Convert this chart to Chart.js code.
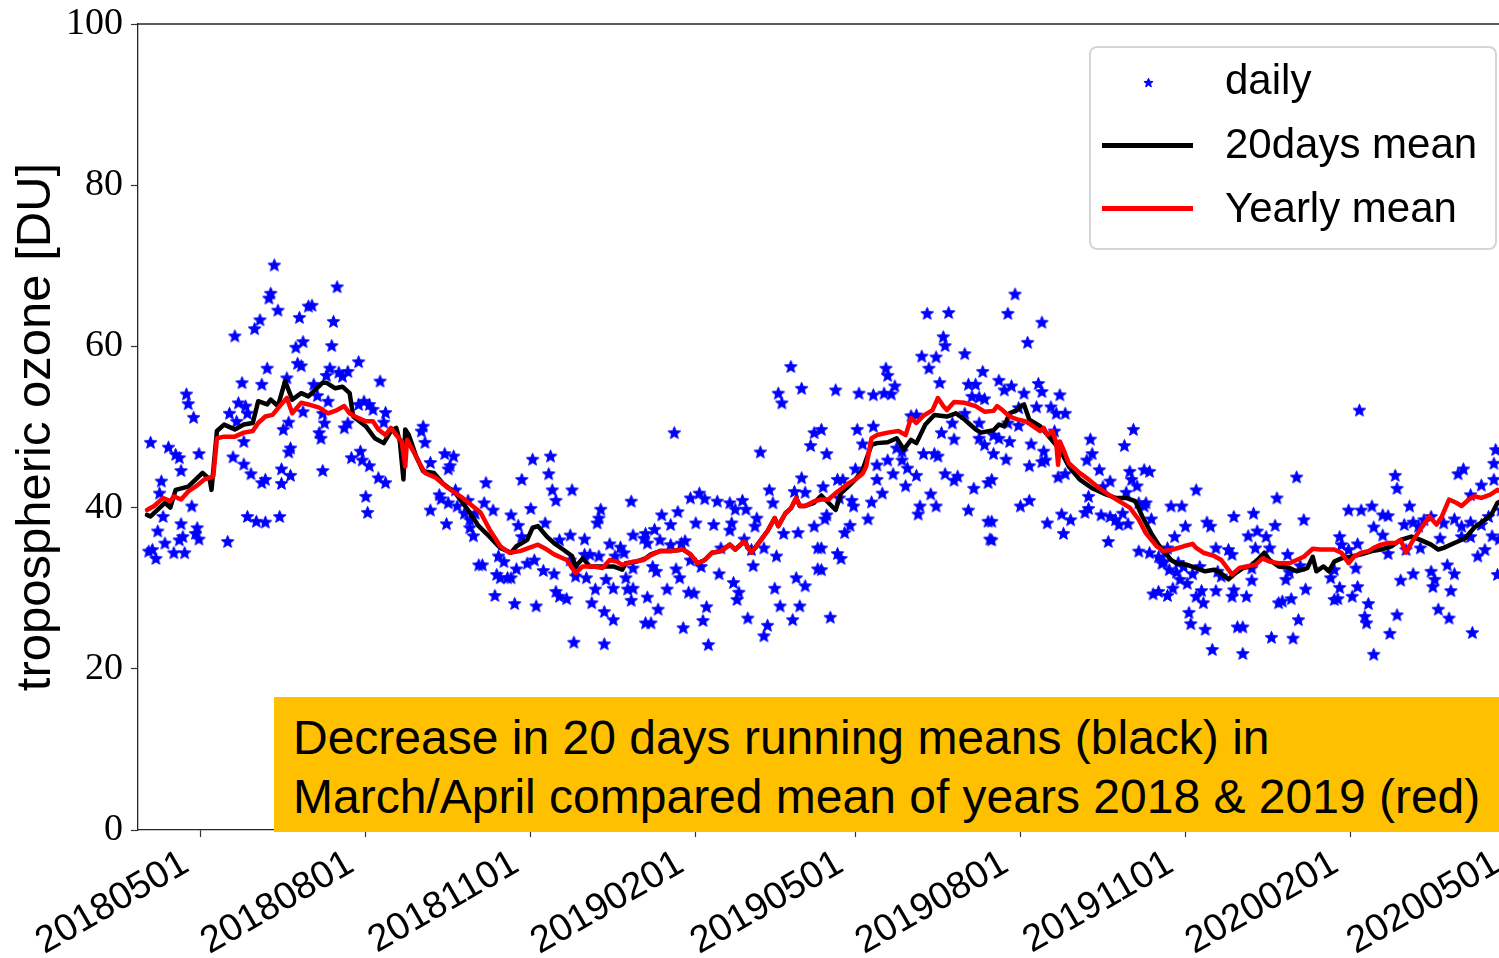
<!DOCTYPE html>
<html>
<head>
<meta charset="utf-8">
<script src="https://cdn.jsdelivr.net/npm/chart.js@4.4.1/dist/chart.umd.min.js"></script>
<style>
html,body{margin:0;padding:0;background:#fff;overflow:hidden;width:1499px;height:958px;}
#wrap{position:relative;width:1499px;height:958px;overflow:hidden;background:#fff;}
#c{position:absolute;left:0;top:0;}
.legend{position:absolute;left:1089px;top:46px;width:404px;height:200px;border:2px solid #d6d6d6;border-radius:8px;background:rgba(255,255,255,0.85);}
.lt{position:absolute;left:1225px;font-family:'Liberation Sans',Arial,sans-serif;font-size:42px;line-height:42px;color:#000;white-space:nowrap;}
.ll{position:absolute;left:1102px;width:91px;height:5px;}
.note{position:absolute;left:274px;top:697px;width:1240px;height:135px;background:#ffc000;box-sizing:border-box;padding:11px 0 0 19px;font-family:'Liberation Sans',Arial,sans-serif;font-size:48px;line-height:59px;color:#000;white-space:nowrap;}
</style>
</head>
<body>
<div id="wrap">
  <canvas id="c" width="1540" height="958" style="width:1540px;height:958px;"></canvas>
  <div class="legend"></div>
  <div class="lt" style="top:59px;">daily</div>
  <div class="ll" style="top:143px;background:#000;"></div>
  <div class="lt" style="top:123px;">20days mean</div>
  <div class="ll" style="top:206px;background:#ff0000;"></div>
  <div class="lt" style="top:187px;">Yearly mean</div>
  <div class="note">Decrease in 20 days running means (black) in<br>March/April compared mean of years 2018 &amp; 2019 (red)</div>
</div>
<script>
// x values: day number counted from 2018-01-01 (day 0)
const tickLabels = ['20180501','20180801','20181101','20190201','20190501','20190801','20191101','20200201','20200501'];
const xRange = [85, 855];
const yRange = [0, 100];
const yTickStep = 20;

// daily tropospheric ozone [DU] : [day, value]
const dailyOzone = [
[161,70.1],[159,66.6],[158,66.0],[163,64.5],[153,63.3],[150,62.2],[139,61.3],[175,63.6],[177,60.6],[173,59.9],
[174,57.9],[176,57.6],[157,57.3],[143,55.5],[154,55.3],[168,56.1],[112,54.1],[113,52.9],[116,51.2],[141,53.0],
[136,51.7],[145,52.6],[146,51.7],[140,50.7],[169,50.6],[166,49.7],[92,48.1],[102,47.5],[106,46.6],[108,46.2],
[119,46.7],[109,44.6],[144,48.2],[138,46.3],[144,45.4],[148,44.2],[170,47.4],[169,46.9],[165,44.8],[170,44.0],
[156,43.5],[154,43.1],[165,43.0],[98,43.3],[97,41.8],[115,40.2],[99,38.9],[146,38.9],[151,38.3],[156,38.2],
[164,38.9],[109,38.0],[96,37.1],[118,37.5],[117,36.8],[119,36.1],[108,36.0],[110,36.4],[100,35.6],[91,34.6],
[93,34.8],[95,33.7],[105,34.4],[111,34.4],[135,35.8],[177,51.9],[180,65.0],
[196,67.4],[182,65.1],[194,63.1],[193,60.1],[208,58.1],[192,57.3],[197,56.8],[199,56.3],[202,56.9],[190,56.4],
[220,55.7],[183,55.3],[185,53.9],[191,53.2],[211,53.2],[214,52.8],[216,52.2],[223,51.8],[188,51.7],[200,49.9],
[189,50.5],[222,50.6],[186,49.3],[187,48.6],[244,50.1],[243,49.5],[245,48.1],[256,46.7],[261,46.4],[259,45.2],
[258,44.8],[248,45.6],[209,47.0],[204,46.2],[210,45.9],[214,45.2],[188,44.6],[219,43.7],[223,43.1],[262,42.2],
[253,41.6],[254,41.1],[258,40.6],[248,39.7],[212,41.4],[213,39.4],[257,38.0],[263,40.2],[269,40.9],[267,39.3],
[270,38.5],[270,37.5],[272,36.5],[275,32.9],[208,52.8],[202,50.5],[273,39.3],
[279,43.1],[278,40.6],[283,39.7],[277,32.9],[293,39.1],[297,37.8],[299,36.4],[305,46.0],[315,46.4],[299,43.5],
[314,44.2],[316,42.2],[318,40.9],[327,42.2],[304,39.9],[312,38.1],[326,36.6],[334,36.1],[341,38.1],[342,38.7],
[343,39.8],[360,40.8],[361,36.6],[367,36.2],[368,36.8],[369,35.6],[348,35.5],[354,35.1],[356,34.4],[286,34.0],
[289,33.3],[287,31.3],[291,31.3],[293,31.3],[285,31.7],[284,29.1],[295,28.1],[307,27.8],[302,33.1],[306,33.5],
[311,32.2],[317,31.8],[318,29.6],[320,29.0],[324,28.7],[329,31.5],[335,31.3],[340,29.9],[338,28.2],[345,27.1],
[350,26.1],[346,31.1],[350,30.0],[357,31.3],[358,29.9],[361,30.0],[360,28.5],[368,25.7],[369,28.9],[328,23.3],
[345,23.1],[326,33.5],[334,34.2],[337,34.2],[342,34.0],[351,34.0],[329,32.4],[296,32.4],[361,32.5],[320,36.0],
[449,57.5],[442,54.2],[444,53.0],[455,54.8],[384,49.3],[462,49.3],[460,47.7],[432,46.9],[455,43.7],[437,42.2],
[451,42.0],[457,41.9],[393,41.2],[398,41.8],[401,41.1],[408,40.8],[415,40.6],[422,40.9],[418,39.8],[424,39.8],
[439,40.6],[377,39.1],[386,39.5],[382,37.9],[396,38.1],[406,37.9],[416,38.1],[430,38.7],[429,37.7],[415,37.2],
[373,37.3],[376,36.0],[390,35.9],[388,35.6],[382,35.4],[445,36.8],[453,36.9],[462,37.7],[423,36.1],[410,35.0],
[427,34.8],[434,35.0],[441,34.0],[464,35.0],[372,32.7],[374,32.1],[385,32.4],[387,31.3],[393,33.5],[399,32.7],
[409,31.8],[417,30.7],[420,29.5],[419,28.6],[428,32.8],[452,31.3],[457,30.3],[464,32.4],[440,30.0],[380,29.9],
[392,29.5],[395,29.4],[375,27.4],[402,27.7],[400,26.0],[389,25.1],[425,26.3],[436,25.4],[434,24.1],[443,27.8],
[454,27.8],[450,26.1],[403,23.0],[371,25.7],
[525,64.1],[537,64.2],[534,61.2],[535,60.1],[522,58.8],[530,58.7],[546,59.1],[526,57.3],[502,57.3],[503,56.4],
[556,56.9],[474,54.6],[487,54.2],[495,54.0],[501,54.2],[505,54.1],[507,55.1],[532,55.5],[548,55.3],[552,55.3],
[550,53.8],[554,53.7],[557,53.5],[486,49.7],[495,50.1],[516,51.4],[519,51.5],[533,49.3],[540,48.5],[489,47.9],
[469,46.7],[508,47.4],[511,47.0],[523,46.7],[529,46.7],[531,46.4],[554,48.6],[557,47.8],[466,49.7],[485,44.8],
[497,45.3],[503,45.9],[506,44.2],[511,45.9],[514,44.9],[519,44.0],[497,43.5],[500,41.8],[513,42.7],[475,43.5],
[478,43.5],[535,44.2],[542,43.9],[540,43.4],[551,42.4],[559,43.1],[467,42.6],[476,41.2],[483,40.9],[484,40.2],
[494,40.7],[492,38.6],[527,41.7],[521,40.2],[520,39.2],[530,40.2],[548,39.7],[559,38.3],[560,36.1],[469,39.1],
[468,38.6],[482,37.8],[479,36.9],[475,34.3],[477,33.7],[466,32.3],[471,26.4],[466,35.0],[546,51.7],[539,50.5],
[554,50.5],
[574,66.5],[570,64.1],[589,63.0],[581,60.5],[565,55.8],[568,54.6],[572,55.1],[579,54.2],[587,55.4],[589,54.4],
[599,54.0],[586,52.5],[594,52.5],[597,51.7],[602,51.7],[576,52.4],[570,50.5],[576,50.2],[596,49.5],[565,48.6],
[571,48.2],[562,49.0],[583,47.9],[590,47.0],[591,45.9],[589,45.7],[569,46.0],[562,46.7],[582,45.2],[598,43.8],
[602,44.2],[616,48.5],[617,46.7],[614,45.9],[621,44.7],[640,49.7],[635,47.7],[638,44.5],[646,44.7],[649,44.5],
[639,43.5],[642,42.7],[627,43.3],[623,42.6],[615,41.4],[636,41.9],[577,40.2],[582,40.9],[600,39.2],[605,38.5],
[592,38.1],[601,36.8],[613,39.4],[615,39.9],[622,39.1],[627,38.9],[630,38.5],[632,37.9],[637,38.0],[634,39.3],
[643,40.6],[646,40.2],[647,40.6],[650,38.6],[626,35.8],[643,34.6],[649,34.4],[654,33.9],[656,33.1],[651,29.3],
[654,29.6],[561,38.3],[561,36.0],[561,43.5],
[731,43.8],[675,42.2],[720,41.2],[661,40.2],[667,40.2],[696,38.9],[707,39.3],[735,38.5],[669,37.7],[681,38.2],
[683,37.7],[719,37.8],[704,36.5],[709,37.1],[714,36.4],[663,36.4],[659,35.0],[658,34.4],[686,35.0],[693,34.8],
[695,34.2],[708,35.0],[716,35.0],[726,34.2],[665,33.2],[668,32.7],[657,33.3],[660,32.3],[664,32.0],[673,31.8],
[677,32.7],[687,32.1],[689,31.5],[706,32.5],[733,32.8],[727,32.0],[725,31.1],[666,31.1],[670,30.6],[662,30.0],
[659,29.1],[678,29.7],[675,29.0],[679,28.2],[686,29.7],[696,29.8],[695,29.0],[703,29.0],[706,31.0],[736,29.9],
[728,28.7],[721,28.2],[723,28.4],[671,27.0],[672,25.6],[680,24.9],[698,25.2],[701,25.2],[732,26.1],[717,23.9],
[729,23.8],[684,22.4],[701,21.9],[752,28.6],[750,31.3],
[766,52.1],[842,47.2],[841,45.5],[786,44.0],[787,42.4],[824,44.8],[821,44.2],[834,42.8],[841,43.5],[828,41.6],
[760,39.7],[767,39.7],[773,40.2],[779,39.1],[782,39.0],[794,40.2],[774,37.6],[779,36.6],[791,37.9],[796,38.2],
[799,37.7],[802,38.5],[806,38.9],[813,38.1],[819,38.6],[823,37.7],[828,38.2],[834,37.9],[838,38.9],[755,36.4],
[765,35.5],[756,35.4],[760,34.8],[782,34.3],[792,34.8],[800,35.0],[811,36.2],[823,36.4],[828,36.4],[840,36.5],
[836,34.8],[832,34.0],[764,32.5],[752,32.3],[815,32.9],[819,31.8],[806,32.1],[808,31.1],[807,30.2],[796,31.8],
[789,31.0],[843,31.7],[755,30.1],[765,30.2],[762,29.0],[754,28.7],[771,28.1],[817,29.7],[810,27.4],[769,26.5],
[770,25.7],[787,26.7],[816,26.3],[783,24.4],[829,24.5],[774,21.8],[844,36.1],[845,39.7]
];

// 20 days running mean : [day, value]
const mean20days = [
[90,39.1],[92,38.9],[100,40.6],[103,40.0],[106,42.2],[113,42.6],[121,44.3],[125,43.5],[126,42.2],[129,49.5],
[133,50.3],[139,49.7],[144,50.3],[149,50.5],[152,53.2],[157,52.8],[159,53.4],[163,52.6],[167,55.7],[171,53.4],
[176,54.2],[180,53.8],[188,55.5],[190,55.5],[195,54.8],[199,55.0],[203,54.2],[205,51.3],[212,50.1],[217,48.6],
[222,48.0],[226,49.5],[229,49.9],[231,48.2],[233,43.5],[234,49.7],[236,49.0],[240,46.4],[244,44.5],[250,44.3],
[255,43.0],[262,41.8],[269,39.7],[275,37.7],[281,36.4],[287,35.0],[293,34.4],[296,35.2],[302,36.0],[305,37.5],
[308,37.7],[313,36.4],[317,35.6],[322,34.8],[327,34.0],[329,32.7],[333,33.7],[337,32.7],[342,32.7],[350,32.7],
[355,32.3],[357,33.1],[363,33.3],[368,33.7],[371,34.2],[376,34.6],[382,34.6],[389,34.8],[393,34.2],[397,33.1],
[401,33.5],[405,34.4],[410,34.6],[415,35.4],[418,34.8],[423,35.8],[427,34.4],[431,35.6],[436,37.1],[440,38.7],
[442,37.7],[446,39.3],[449,39.9],[452,41.2],[454,40.2],[457,40.2],[462,40.6],[466,41.5],[470,40.6],[474,39.7],
[477,41.8],[481,42.6],[485,43.5],[489,44.7],[494,47.8],[497,48.0],[503,48.1],[508,48.6],[512,47.2],[516,48.4],
[519,48.0],[524,50.3],[529,51.5],[536,51.3],[541,51.7],[546,50.9],[552,49.7],[555,49.3],[562,49.6],[565,50.3],
[568,50.1],[571,51.7],[575,52.1],[577,52.6],[579,52.8],[582,50.9],[588,50.1],[593,48.8],[599,47.2],[604,45.1],
[610,43.5],[617,42.4],[625,41.6],[630,41.2],[636,41.2],[641,40.8],[645,38.9],[650,36.8],[654,35.4],[657,34.6],
[661,33.5],[664,33.1],[670,32.9],[675,32.5],[680,32.1],[685,32.3],[688,32.0],[693,31.1],[696,31.7],[701,32.5],
[705,32.7],[710,33.7],[713,34.4],[716,33.5],[721,32.7],[727,32.5],[731,32.1],[737,32.5],[740,33.9],[742,32.1],
[746,32.7],[749,32.1],[752,33.3],[756,33.7],[761,33.9],[767,34.2],[773,34.6],[778,34.8],[784,35.2],[789,36.0],
[795,36.4],[800,36.0],[806,35.4],[810,34.8],[813,35.0],[819,35.6],[825,36.2],[830,37.5],[836,38.5],[840,39.3],
[843,40.6],[845,40.8]
];

// mean of years 2018 & 2019 : [day, value]
const yearlyMean = [
[90,39.7],[94,40.2],[99,41.2],[103,40.8],[105,41.4],[109,41.0],[113,42.0],[117,42.6],[122,43.5],[125,43.7],
[127,43.9],[129,48.6],[133,48.8],[139,48.8],[144,49.3],[149,49.5],[152,50.5],[156,51.3],[160,51.5],[164,52.6],
[168,53.6],[171,51.7],[176,53.0],[180,52.8],[186,52.4],[191,51.7],[196,52.1],[200,52.6],[203,51.7],[206,51.3],
[212,50.7],[216,50.7],[219,49.7],[223,49.0],[226,49.9],[229,49.0],[232,48.2],[234,45.1],[235,48.4],[238,47.2],
[242,45.5],[245,44.3],[251,43.7],[258,42.4],[266,41.2],[276,39.4],[281,37.3],[287,35.2],[292,34.4],[298,34.6],
[303,35.0],[308,35.4],[313,34.8],[317,34.2],[324,33.5],[329,31.9],[333,32.7],[339,32.7],[344,32.5],[348,33.5],
[352,33.3],[355,32.9],[361,33.3],[367,33.5],[371,34.1],[376,34.6],[382,34.6],[389,34.8],[393,34.2],[397,33.1],
[401,33.5],[405,34.4],[410,34.6],[415,35.4],[418,34.8],[423,35.8],[427,34.4],[431,35.6],[436,37.1],[440,38.7],
[442,37.7],[446,39.3],[449,39.9],[452,41.2],[454,40.2],[457,40.2],[462,40.8],[466,41.0],[470,41.0],[474,41.8],
[477,42.3],[481,43.0],[485,43.5],[489,44.2],[491,45.1],[494,48.6],[497,49.0],[503,49.3],[509,49.5],[513,49.0],
[516,51.1],[519,50.5],[523,51.4],[528,52.1],[531,53.6],[534,52.6],[536,52.1],[540,53.1],[546,53.0],[552,52.6],
[557,51.9],[562,52.0],[564,52.6],[567,52.1],[571,51.3],[576,50.9],[580,50.7],[584,50.1],[588,49.5],[590,49.9],
[592,49.0],[595,49.5],[597,48.0],[598,45.3],[599,48.2],[601,47.2],[604,45.5],[610,44.3],[615,43.5],[621,42.4],
[627,41.5],[632,40.8],[638,40.0],[643,38.5],[647,36.8],[653,35.2],[657,34.6],[662,34.8],[668,35.2],[673,35.5],
[675,35.0],[679,34.4],[685,34.0],[689,33.5],[693,32.3],[695,31.7],[699,32.5],[703,32.7],[708,32.9],[712,33.7],
[716,33.3],[721,33.1],[727,33.1],[731,33.5],[735,33.9],[740,34.9],[744,34.8],[752,34.8],[756,34.4],[760,33.1],
[763,33.9],[767,34.4],[771,34.6],[774,35.0],[778,35.4],[782,35.6],[786,35.6],[789,36.0],[792,34.4],[795,35.6],
[800,37.3],[805,38.9],[809,37.9],[812,38.9],[816,41.0],[820,40.6],[823,40.2],[827,41.0],[830,41.4],[834,41.2],
[839,41.6],[843,42.2],[845,42.0]
];

function dayOf(s) {
  return (Date.UTC(+s.slice(0,4), +s.slice(4,6) - 1, +s.slice(6,8)) - Date.UTC(2018,0,1)) / 86400000;
}
const tickDays = tickLabels.map(dayOf);
const toPts = arr => arr.map(p => ({x: p[0], y: p[1]}));

function makeStar(r, color) {
  const size = Math.ceil(r * 2) + 3;
  const c = document.createElement('canvas');
  c.width = size; c.height = size;
  const g = c.getContext('2d');
  const cx = size / 2, cy = size / 2 + 0.5;
  g.beginPath();
  for (let i = 0; i < 10; i++) {
    const a = -Math.PI / 2 + i * Math.PI / 5;
    const rr = (i % 2 === 0) ? r : r * 0.44;
    const px = cx + rr * Math.cos(a), py = cy + rr * Math.sin(a);
    if (i === 0) g.moveTo(px, py); else g.lineTo(px, py);
  }
  g.closePath();
  g.fillStyle = color; g.fill();
  g.lineWidth = 1; g.strokeStyle = color; g.lineJoin = 'miter'; g.stroke();
  return c;
}
const starImg = makeStar(6.6, '#0000ff');

// legend star
const ls = makeStar(4.8, '#0000ff');
ls.style.position = 'absolute';
ls.style.left = (1148 - ls.width / 2) + 'px';
ls.style.top = (82 - ls.height / 2) + 'px';
document.getElementById('wrap').appendChild(ls);

const frame = {
  id: 'frame',
  afterDraw(chart) {
    const {ctx, chartArea: a} = chart;
    ctx.save();
    ctx.strokeStyle = '#262626';
    ctx.lineWidth = 1.3;
    ctx.beginPath();
    ctx.moveTo(a.left, a.top);
    ctx.lineTo(a.right, a.top);
    ctx.lineTo(a.right, a.bottom);
    ctx.stroke();
    ctx.restore();
  }
};

new Chart(document.getElementById('c'), {
  type: 'scatter',
  data: {
    datasets: [
      {label: 'daily', data: toPts(dailyOzone), pointStyle: starImg, pointRadius: 6, showLine: false, order: 3},
      {label: '20days mean', data: toPts(mean20days), showLine: true, borderColor: '#000', borderWidth: 4.5,
       pointRadius: 0, tension: 0, borderJoinStyle: 'round', borderCapStyle: 'round', order: 2},
      {label: 'Yearly mean', data: toPts(yearlyMean), showLine: true, borderColor: '#ff0000', borderWidth: 4.5,
       pointRadius: 0, tension: 0, borderJoinStyle: 'round', borderCapStyle: 'round', order: 1}
    ]
  },
  options: {
    responsive: false,
    animation: false,
    devicePixelRatio: 1,
    events: [],
    layout: {padding: {left: 0, top: 24, right: 21, bottom: 0}},
    plugins: {legend: {display: false}, tooltip: {enabled: false}},
    scales: {
      x: {
        type: 'linear', min: xRange[0], max: xRange[1],
        afterBuildTicks(s) { s.ticks = tickDays.map(v => ({value: v})); },
        afterFit(s) { s.height = 128; },
        ticks: {autoSkip: false, minRotation: 30, maxRotation: 30, padding: 4, labelOffset: -15, color: '#000',
                font: {family: 'Liberation Sans', size: 38},
                callback: (v, i) => tickLabels[i]},
        grid: {drawOnChartArea: false, drawTicks: true, tickLength: 7, tickColor: '#333', tickWidth: 1.2},
        border: {display: true, color: '#262626', width: 1.3}
      },
      y: {
        min: yRange[0], max: yRange[1],
        afterFit(s) { s.width = 138; },
        ticks: {stepSize: yTickStep, padding: 8, color: '#000', font: {family: 'Liberation Serif', size: 38, lineHeight: 0.8}},
        grid: {drawOnChartArea: false, drawTicks: true, tickLength: 7, tickColor: '#333', tickWidth: 1.2},
        border: {display: true, color: '#262626', width: 1.3},
        title: {display: true, text: 'tropospheric ozone [DU]', color: '#000',
                font: {family: 'Liberation Sans', size: 49, lineHeight: 1}, padding: {top: 12, bottom: 0}}
      }
    }
  },
  plugins: [frame]
});
</script>
</body>
</html>
